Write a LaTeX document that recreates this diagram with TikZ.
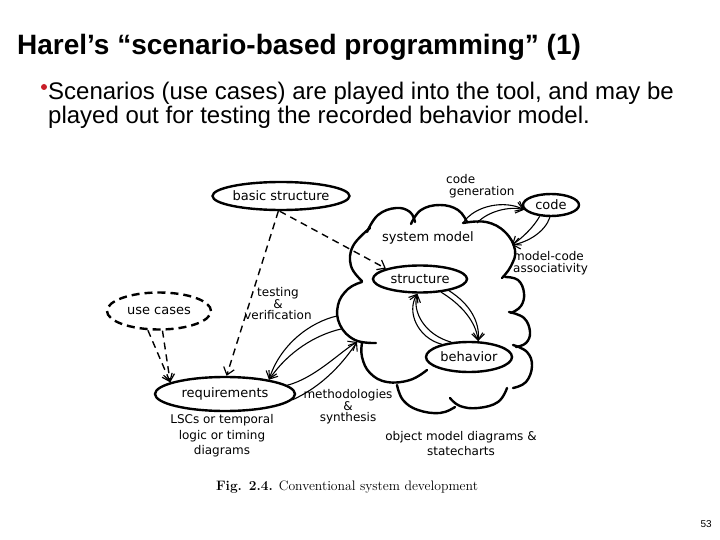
\documentclass[tikz,border=0pt]{standalone}
\usepackage{fontspec}
\setmainfont{Liberation Sans}
\newfontfamily\handfont{DejaVu Sans}
\newfontfamily\capfont{Latin Modern Roman}
\usetikzlibrary{arrows.meta,shapes.geometric}
\definecolor{bulletred}{RGB}{200,30,40}
\tikzset{
  ell/.style={ellipse,draw,line width=2.4pt,inner sep=0pt,font=\handfont\fontsize{13}{15}\selectfont},
  ucell/.style={ell,dash pattern=on 8pt off 5pt},
  cloudline/.style={line width=2.4pt,line cap=round},
  arr/.style={line width=1.1pt,-{Straight Barb[length=7pt,width=11pt,line width=1.1pt]}},
  darr/.style={line width=1.4pt,dash pattern=on 7pt off 5pt,-{Straight Barb[length=7pt,width=11pt,line width=1.2pt]}},
  lbl/.style={font=\handfont\fontsize{12}{12.5}\selectfont,align=center,inner sep=0pt},
  lblbig/.style={font=\handfont\fontsize{13}{15}\selectfont,inner sep=0pt},
  slidetext/.style={anchor=base west,inner sep=0pt,font=\fontsize{24}{28}\selectfont},
}
\begin{document}
\begin{tikzpicture}[x=1pt,y=-1pt]
\useasboundingbox[fill=white] (0,0) rectangle (720,540);

% title and bullet
\node[anchor=base west,inner sep=0pt,font=\bfseries\fontsize{28}{32}\selectfont] (title) at (17,55) {Harel’s “scenario-based programming” (1)};
\fill[bulletred] (44,87) circle (3);
\node[slidetext] (bullet1) at (48,100) {Scenarios (use cases) are played into the tool, and may be};
\node[slidetext] (bullet2) at (48,124) {played out for testing the recorded behavior model.};
\node[anchor=base east,inner sep=0pt,font=\fontsize{10}{12}\selectfont] (page) at (712,527) {53};

% cloud (system model)
\draw[cloudline] plot[smooth,tension=0.7] coordinates {(362,281) (351,266) (353,246) (370,228)};
\draw[cloudline] plot[smooth,tension=0.7] coordinates {(367,232) (378,215) (396,208) (410,212) (415,222)};
\draw[cloudline] plot[smooth,tension=0.7] coordinates {(411,224) (421,210) (440,205) (458,210) (467,222)};
\draw[cloudline] plot[smooth,tension=0.7] coordinates {(463,223) (486,222) (505,232) (515,250) (511,266) (502,278)};
\draw[cloudline] plot[smooth,tension=0.7] coordinates {(505,277) (518,280) (524,293) (521,306) (511,313)};
\draw[cloudline] plot[smooth,tension=0.7] coordinates {(509,312) (524,318) (530,332) (526,343) (516,347)};
\draw[cloudline] plot[smooth,tension=0.7] coordinates {(513,345) (527,352) (532,366) (526,382) (513,388)};
\draw[cloudline] plot[smooth,tension=0.7] coordinates {(507,388) (498,402) (478,408) (460,406) (450,398)};
\draw[cloudline] plot[smooth,tension=0.7] coordinates {(455,407) (440,413) (418,410) (403,400) (397,385)};
\draw[cloudline] plot[smooth,tension=0.7] coordinates {(427,370) (410,380) (387,382) (370,373) (362,357) (362,343)};
\draw[cloudline] plot[smooth,tension=0.7] coordinates {(376,343) (355,340) (340,325) (338,305) (348,289) (362,282)};

% nodes
\node[ell,minimum width=126,minimum height=28] (bs) at (281,196) {basic structure};
\node[ell,minimum width=56,minimum height=22] (code) at (551,205) {code};
\node[ell,minimum width=94,minimum height=27] (struct) at (420,279) {structure};
\node[ell,minimum width=86,minimum height=30] (behav) at (469,357) {behavior};
\node[ucell,minimum width=104,minimum height=37] (uc) at (159,311) {use cases};
\node[ell,minimum width=140,minimum height=34] (req) at (225,394) {requirements};

% cloud attachment points
\coordinate (cgA) at (463,223);
\coordinate (cgB) at (477,223);
\coordinate (mcE) at (512,245);
\coordinate (tvA) at (337,316);
\coordinate (tvB) at (341,329);
\coordinate (msE) at (357,342);

% labels
\node[lblbig] (sysm) at (428,238) {system model};
\node[lbl,align=left,anchor=west] (cglab) at (446,186) {code\\[-1pt]\hspace*{3pt}generation};
\node[lbl,align=left,anchor=west] (mclab) at (513,263) {model-code\\associativity};
\node[lbl] (tvlab) at (278,304) {testing\\[-1pt]\&\\[-1pt]verification};
\node[lbl] (mslab) at (348,407) {methodologies\\[-1pt]\&\\[-1pt]synthesis};
\node[lbl,font=\handfont\fontsize{12}{15.5}\selectfont] (lsclab) at (222,436) {LSCs or temporal\\logic or timing\\diagrams};
\node[lbl,font=\handfont\fontsize{12}{15}\selectfont] (omlab) at (461,444) {object model diagrams \&\\statecharts};
\node[inner sep=0pt,font=\capfont\fontsize{13.7}{15}\selectfont] (caption) at (347,487) {\textbf{Fig. 2.4.} Conventional system development};

% dashed connectors
\draw[darr] (bs.-95) -- (struct.163);
\draw[darr] (bs.-100) -- (req.85);
\draw[darr] (uc.-120) -- (req.168);
\draw[darr] (uc.-80) -- (req.168);

% code generation
\draw[arr] (cgA) .. controls (475,205) and (505,200) .. (code.190);
\draw[arr] (cgB) .. controls (488,211) and (510,206) .. (code.190);
% model-code associativity
\draw[arr] (code.-135) .. controls (533,228) and (522,238) .. (mcE);
\draw[arr] (code.-95) .. controls (545,232) and (528,242) .. (mcE);
% structure <-> behavior
\draw[arr] (struct.-32) .. controls (462,305) and (476,322) .. (behav.60);
\draw[arr] (struct.-22) .. controls (470,304) and (480,322) .. (behav.60);
\draw[arr] (behav.140) .. controls (425,335) and (412,312) .. (struct.-100);
\draw[arr] (behav.155) .. controls (418,338) and (406,312) .. (struct.-100);
% testing & verification
\draw[arr] (tvA) .. controls (310,322) and (280,345) .. (req.18);
\draw[arr] (tvB) .. controls (315,335) and (288,352) .. (req.18);
% methodologies & synthesis
\draw[arr] (req.8) .. controls (315,378) and (340,352) .. (msE);
\draw[arr] (req.-5) .. controls (325,385) and (345,360) .. (msE);
\end{tikzpicture}
\end{document}
